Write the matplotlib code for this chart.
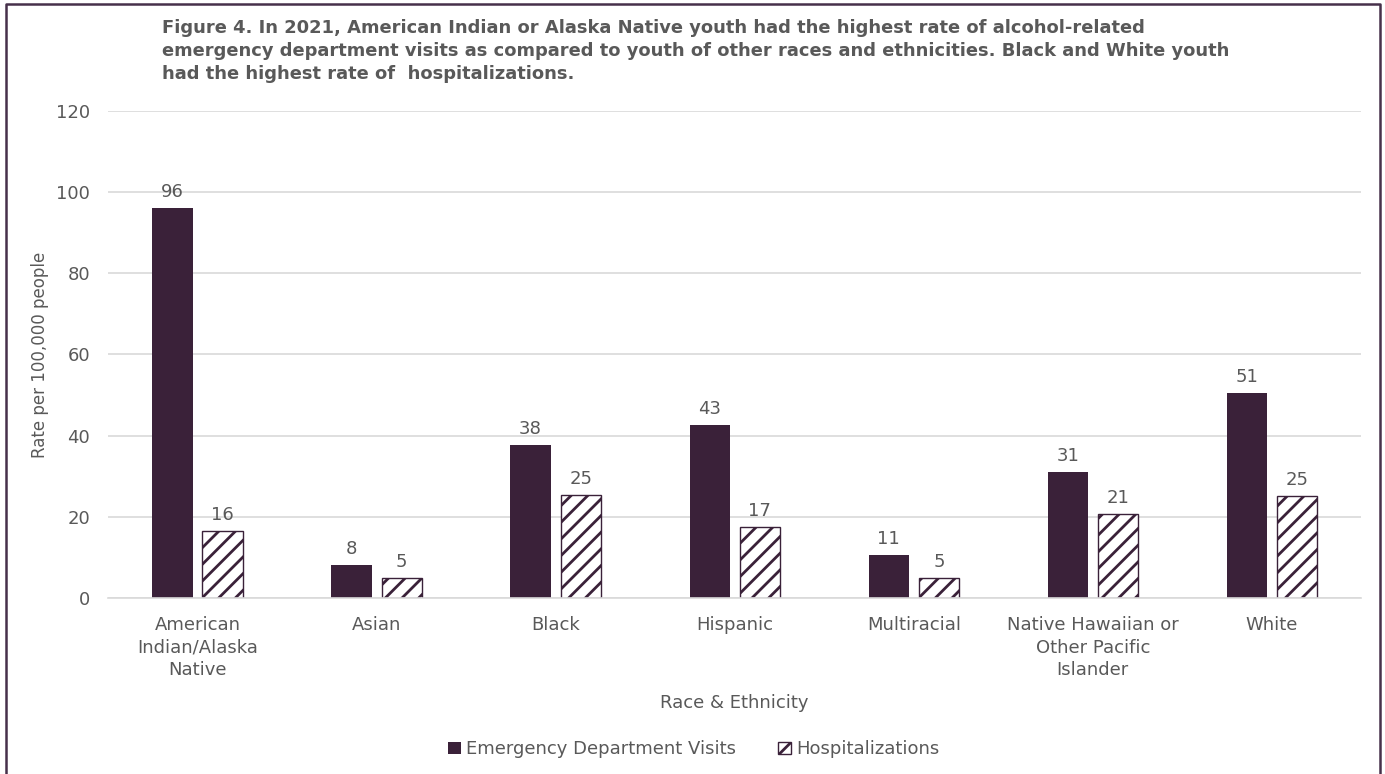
import matplotlib.pyplot as plt
import numpy as np
from matplotlib.lines import Line2D

plt.rcParams["font.family"] = "DejaVu Sans"
plt.rcParams["hatch.linewidth"] = 2.0

# Alcohol-related visits per 100,000 youth, 2021
groups = [
    "American\nIndian/Alaska\nNative",
    "Asian",
    "Black",
    "Hispanic",
    "Multiracial",
    "Native Hawaiian or\nOther Pacific\nIslander",
    "White",
]
ed_visits = [96.2, 8.1, 37.6, 42.7, 10.6, 31.0, 50.6]
hospitalizations = [16.4, 4.9, 25.3, 17.4, 4.9, 20.8, 25.1]

purple = "#3a2139"
grey_text = "#595959"
grid_col = "#d9d9d9"

fig = plt.figure(figsize=(13.85, 7.74), dpi=100)
ax = fig.add_axes([0.078, 0.2274, 0.905, 0.6292])

x = np.arange(len(groups))
w = 0.225
off = 0.14
b1 = ax.bar(x - off, ed_visits, w, color=purple, label="Emergency Department Visits")
b2 = ax.bar(x + off, hospitalizations, w, color="white", edgecolor=purple,
            linewidth=1.0, hatch="//", label="Hospitalizations")
ax.bar_label(b1, fmt="%.0f", padding=5, fontsize=13, color=grey_text)
ax.bar_label(b2, fmt="%.0f", padding=5, fontsize=13, color=grey_text)

ax.set_xlim(-0.5, len(groups) - 0.5)
ax.set_ylim(0, 120)
ax.set_yticks(np.arange(0, 121, 20))
ax.yaxis.grid(True, color=grid_col, linewidth=1.2)
ax.set_axisbelow(True)
for s in ["top", "right", "left"]:
    ax.spines[s].set_visible(False)
ax.spines["bottom"].set_color(grid_col)
ax.spines["bottom"].set_linewidth(1.2)

ax.set_xticks(x)
ax.set_xticklabels(groups, linespacing=1.32)
ax.tick_params(axis="x", length=0, pad=13, labelsize=13, labelcolor=grey_text)
ax.tick_params(axis="y", length=0, pad=13, labelsize=13, labelcolor=grey_text)

ax.set_xlabel("Race & Ethnicity", fontsize=13, color=grey_text)
ax.xaxis.set_label_coords(0.5, -0.2156)
ax.xaxis.label.set_va("center")
ax.set_ylabel("Rate per 100,000 people", fontsize=12, color=grey_text)
ax.yaxis.set_label_coords(-0.054, 0.5)
ax.yaxis.label.set_va("center")

fig.text(
    162 / 1385, 1 - 19 / 774,
    "Figure 4. In 2021, American Indian or Alaska Native youth had the highest rate of alcohol-related\n"
    "emergency department visits as compared to youth of other races and ethnicities. Black and White youth\n"
    "had the highest rate of  hospitalizations.",
    ha="left", va="top", fontsize=12.9, fontweight="bold", color=grey_text, linespacing=1.36,
)

fig.legend(
    handles=[b1, b2], loc="center", bbox_to_anchor=(0.501, 0.032), ncol=2,
    frameon=False, fontsize=13, labelcolor=grey_text, handlelength=0.7,
    handleheight=0.7, handletextpad=0.3, columnspacing=2.3,
)

# outer chart border (left, top, right)
bx0, bx1, by1 = 6 / 1385, 1380 / 1385, 1 - 4 / 774
fig.add_artist(Line2D([bx0, bx0, bx1, bx1], [0, by1, by1, 0],
                      transform=fig.transFigure, color="#46304a", linewidth=1.8))

fig.savefig("out.png", dpi=100)
